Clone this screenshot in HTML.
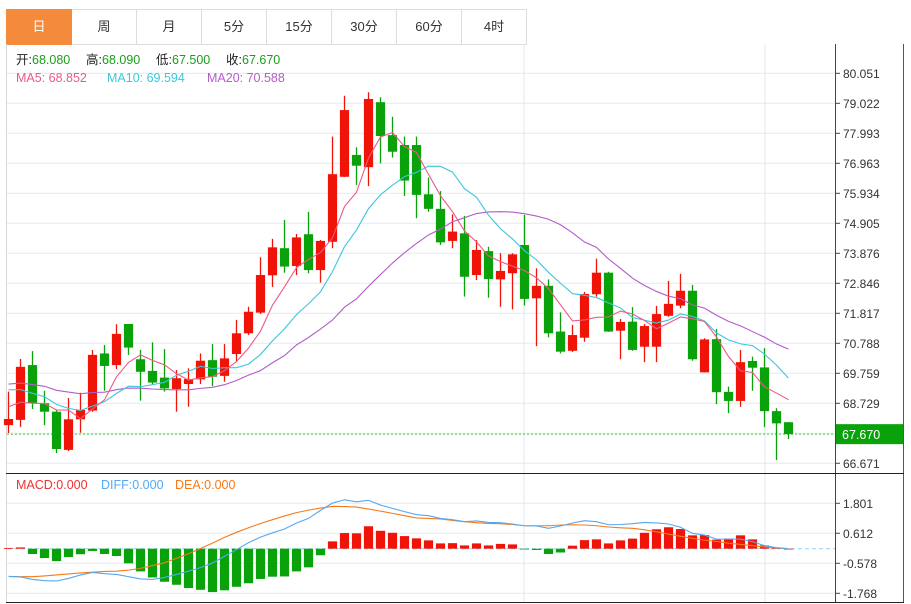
<!DOCTYPE html>
<html><head><meta charset="utf-8">
<style>
html,body{margin:0;padding:0;background:#fff;width:911px;height:604px;overflow:hidden;font-family:"Liberation Sans","Noto Sans CJK SC",sans-serif;}
.tabs{position:absolute;left:6px;top:9px;height:35px;display:flex;}
.tab{width:64px;height:34px;border:1px solid #ddd;border-left:none;text-align:center;line-height:34px;font-size:13px;color:#333;box-sizing:content-box;}
.tab:first-child{border-left:1px solid #ddd;}
.tab.active{background:#f38a3c;color:#fff;border-color:#f38a3c;}
svg{position:absolute;left:0;top:0;}
</style></head>
<body>
<div class="tabs">
<div class="tab active">日</div>
<div class="tab">周</div>
<div class="tab">月</div>
<div class="tab">5分</div>
<div class="tab">15分</div>
<div class="tab">30分</div>
<div class="tab">60分</div>
<div class="tab">4时</div>
</div>
<svg id="chart" width="911" height="604" font-family="Liberation Sans, Noto Sans CJK SC, sans-serif"></svg>
<script>
const opens=[67.98,68.16,70.04,68.73,68.44,67.13,68.18,68.48,70.44,70.04,71.45,70.24,69.84,69.61,69.22,69.39,69.55,70.21,69.67,70.42,71.13,71.84,73.12,74.05,73.44,74.53,73.30,74.27,76.50,77.25,76.83,79.06,77.93,77.59,77.59,75.90,75.40,74.30,74.56,73.13,73.95,72.98,73.19,74.16,72.33,72.76,71.19,70.53,70.98,72.47,73.21,71.22,71.53,70.67,70.67,71.73,72.08,72.59,69.79,70.93,69.12,68.81,70.18,69.96,68.46,68.08];
const highs=[69.13,70.25,70.52,69.16,68.50,68.91,69.09,70.56,70.73,71.44,71.45,70.56,70.82,70.59,69.87,69.93,70.44,70.76,70.76,71.59,72.04,73.74,74.37,75.02,74.54,75.30,74.33,77.88,79.28,77.51,79.40,79.23,78.56,77.88,77.88,76.47,76.01,75.21,75.16,74.33,74.10,73.88,73.88,75.19,73.36,72.98,71.85,71.42,72.55,73.69,73.24,71.62,72.03,71.45,72.07,72.93,73.17,72.79,70.96,71.28,69.30,70.56,70.33,70.62,68.56,68.09];
const lows=[67.71,67.92,68.53,67.98,67.02,67.09,67.72,68.44,69.16,69.90,70.39,68.82,69.39,69.13,68.44,68.61,69.39,69.32,69.47,70.16,71.07,71.79,72.72,73.21,73.13,73.19,72.87,74.05,76.50,76.22,76.18,76.96,77.16,75.84,75.08,75.30,74.16,74.05,72.39,72.96,72.35,72.04,71.95,72.08,70.69,70.99,70.44,70.49,70.84,72.39,71.18,70.24,70.53,70.14,70.14,71.70,71.99,70.19,69.79,68.70,68.39,68.61,69.16,67.91,66.78,67.50];
const closes=[68.19,69.98,68.73,68.44,67.16,68.18,68.50,70.39,70.01,71.11,70.64,69.81,69.44,69.24,69.59,69.56,70.19,69.64,70.27,71.13,71.87,73.13,74.08,73.42,74.42,73.30,74.30,76.59,78.79,76.88,79.17,77.90,77.36,76.37,75.88,75.40,74.25,74.62,73.07,73.99,72.99,73.27,73.84,72.31,72.76,71.13,70.50,71.07,72.48,73.21,71.19,71.52,70.56,71.38,71.79,72.14,72.59,70.24,70.92,69.11,68.81,70.14,69.95,68.46,68.04,67.67];
const prevCloses=[69.3,69.8,69.6,69.9,69.4,69.7,69.5,69.8,69.4,69.5,69.9,70.0,69.6,69.8,69.55,69.2,68.9,68.5,68.26];
const macdBars=[0.02,0.05,-0.21,-0.37,-0.49,-0.33,-0.22,-0.09,-0.21,-0.29,-0.58,-0.90,-1.14,-1.31,-1.43,-1.56,-1.63,-1.72,-1.65,-1.51,-1.37,-1.20,-1.11,-1.10,-0.90,-0.74,-0.26,0.29,0.62,0.61,0.89,0.71,0.63,0.50,0.41,0.33,0.21,0.22,0.13,0.21,0.13,0.19,0.17,-0.03,-0.05,-0.21,-0.15,0.12,0.34,0.37,0.21,0.33,0.40,0.63,0.77,0.85,0.78,0.53,0.54,0.36,0.40,0.53,0.37,0.13,0.03,0.0];
const diffVals=[-1.10,-1.12,-1.22,-1.27,-1.28,-1.18,-1.04,-0.94,-0.99,-1.02,-1.11,-1.20,-1.22,-1.14,-1.02,-0.89,-0.75,-0.57,-0.30,-0.04,0.24,0.46,0.63,0.78,1.02,1.20,1.52,1.81,1.94,1.86,1.92,1.73,1.60,1.47,1.35,1.31,1.20,1.15,1.07,1.10,1.04,1.03,0.98,0.91,0.90,0.81,0.90,1.02,1.11,1.07,0.95,0.96,0.99,1.04,1.02,0.98,0.85,0.61,0.54,0.38,0.38,0.38,0.28,0.12,0.04,0.0];
const deaVals=[-1.10,-1.11,-1.11,-1.08,-1.04,-1.00,-0.96,-0.93,-0.90,-0.89,-0.85,-0.78,-0.67,-0.56,-0.38,-0.20,0.01,0.22,0.45,0.65,0.83,1.00,1.15,1.30,1.43,1.53,1.61,1.68,1.67,1.65,1.57,1.49,1.40,1.31,1.22,1.20,1.18,1.12,1.07,1.03,1.00,0.99,0.96,0.91,0.91,0.91,0.94,0.95,0.94,0.91,0.86,0.83,0.81,0.75,0.67,0.58,0.49,0.41,0.34,0.29,0.22,0.17,0.12,0.07,0.03,0.0];
const priceTicks=[80.051,79.022,77.993,76.963,75.934,74.905,73.876,72.846,71.817,70.788,69.759,68.729,66.671];
const macdTicks=[1.801,0.612,-0.578,-1.768];
const lastPrice=67.670;

const svg=document.getElementById('chart');
const NS='http://www.w3.org/2000/svg';
function mk(tag,attrs,parent){const e=document.createElementNS(NS,tag);for(const k in attrs)e.setAttribute(k,attrs[k]);(parent||svg).appendChild(e);return e;}
const xOf=i=>8.5+i*12.0;
const yP=v=>73.3+(80.051-v)*29.146;
const yM=v=>548.7-v*25.22;
const RED='#f01408',GREEN='#0aa20a';

let g=mk('g',{});


for(let k=0;k<14;k++){mk('line',{x1:7,x2:835,y1:73.3+30*k,y2:73.3+30*k,stroke:'#e3eaf0','stroke-width':1},g);}
for(const v of macdTicks){mk('line',{x1:7,x2:835,y1:yM(v),y2:yM(v),stroke:'#e3eaf0','stroke-width':1},g);}
for(const x of [524,765]){mk('line',{x1:x,x2:x,y1:44,y2:603,stroke:'#dde8f0','stroke-width':1},g);}
mk('line',{x1:6.5,x2:6.5,y1:44,y2:603,stroke:'#d8d8d8'},g);
mk('line',{x1:903.5,x2:903.5,y1:44,y2:603,stroke:'#555'},g);
mk('line',{x1:835.5,x2:835.5,y1:44,y2:603,stroke:'#444'},g);
mk('line',{x1:6,x2:904,y1:473.5,y2:473.5,stroke:'#222'},g);
mk('line',{x1:6,x2:904,y1:602.5,y2:602.5,stroke:'#222'},g);

let ax=mk('g',{});


for(const v of priceTicks){const y=yP(v);mk('line',{x1:835,x2:840,y1:y,y2:y,stroke:'#444'},ax);
const t=mk('text',{x:843,y:y+4.5,'font-size':12,fill:'#333'},ax);t.textContent=v.toFixed(3);}
let mx=mk('g',{});


for(const v of macdTicks){const y=yM(v);mk('line',{x1:835,x2:840,y1:y,y2:y,stroke:'#444'},mx);
const t=mk('text',{x:843,y:y+4.5,'font-size':12,fill:'#333'},mx);t.textContent=(v<0?'-':'')+Math.abs(v).toFixed(3);}

const lp=mk('line',{x1:7,x2:835,y1:yP(lastPrice),y2:yP(lastPrice),stroke:'#3cc83c','stroke-dasharray':'2,2','stroke-width':1});


const lb=mk('rect',{x:836,y:yP(lastPrice)-10,width:67,height:20,fill:GREEN});


const lt=mk('text',{x:842,y:yP(lastPrice)+5,'font-size':12.5,fill:'#fff'});lt.textContent=lastPrice.toFixed(3);

const cg=mk('g',{});


for(let i=0;i<closes.length;i++){
 const up=closes[i]>=opens[i];const col=up?RED:GREEN;const x=xOf(i);
 const c=mk('g',{},cg);
 
 
 mk('line',{x1:x,x2:x,y1:yP(highs[i]),y2:yP(lows[i]),stroke:col,'stroke-width':1.3},c);
 const top=yP(Math.max(opens[i],closes[i])),bot=yP(Math.min(opens[i],closes[i]));
 mk('rect',{x:x-4.6,y:top,width:9.2,height:Math.max(1,bot-top),fill:col},c);
}

const all=prevCloses.concat(closes);
function ma(n){const out=[];for(let i=0;i<closes.length;i++){const j=i+prevCloses.length;let s=0;for(let k=j-n+1;k<=j;k++)s+=all[k];out.push(s/n);}return out;}
function poly(vals,yf,color,name){const p=mk('polyline',{points:vals.map((v,i)=>xOf(i)+','+yf(v)).join(' '),fill:'none',stroke:color,'stroke-width':1.1});
 
 }
poly(ma(20),yP,'#b45cc8','ma20-line');
poly(ma(10),yP,'#3ec6dc','ma10-line');
poly(ma(5),yP,'#ec5a86','ma5-line');

mk('line',{x1:7,x2:835,y1:yM(0),y2:yM(0),stroke:'#8fd4f0','stroke-dasharray':'4,3'});
const mg=mk('g',{});


for(let i=0;i<macdBars.length;i++){const v=macdBars[i];const y0=yM(0),y1=yM(v);
 const b=mk('rect',{x:xOf(i)-4.6,y:Math.min(y0,y1),width:9.2,height:Math.max(0.8,Math.abs(y1-y0)),fill:v>=0?RED:GREEN},mg);
 
 }
poly(deaVals,yM,'#f57a1c','dea-line');
poly(diffVals,yM,'#55a8f0','diff-line');

function txt(x,y,s,fill,size,name){const t=mk('text',{x:x,y:y,'font-size':size||12.5,fill:fill});t.textContent=s;
 if(name){}return t;}
const ohlc=[['开:','68.080',16],['高:','68.090',86],['低:','67.500',156],['收:','67.670',226]];
for(const [l,v,x] of ohlc){txt(x,64,l,'#222',12.5,'ohlc-label');txt(x+16,64,v,'#1b9e1b',12.5,'ohlc-value');}
txt(16,82,'MA5: 68.852','#ec5a86',12.5,'ma5-legend');
txt(107,82,'MA10: 69.594','#3ec6dc',12.5,'ma10-legend');
txt(207,82,'MA20: 70.588','#b45cc8',12.5,'ma20-legend');
txt(16,489,'MACD:0.000','#ee3333',12.5,'macd-legend');
txt(101,489,'DIFF:0.000','#55a8f0',12.5,'diff-legend');
txt(175,489,'DEA:0.000','#f57a1c',12.5,'dea-legend');
</script>
</body></html>
